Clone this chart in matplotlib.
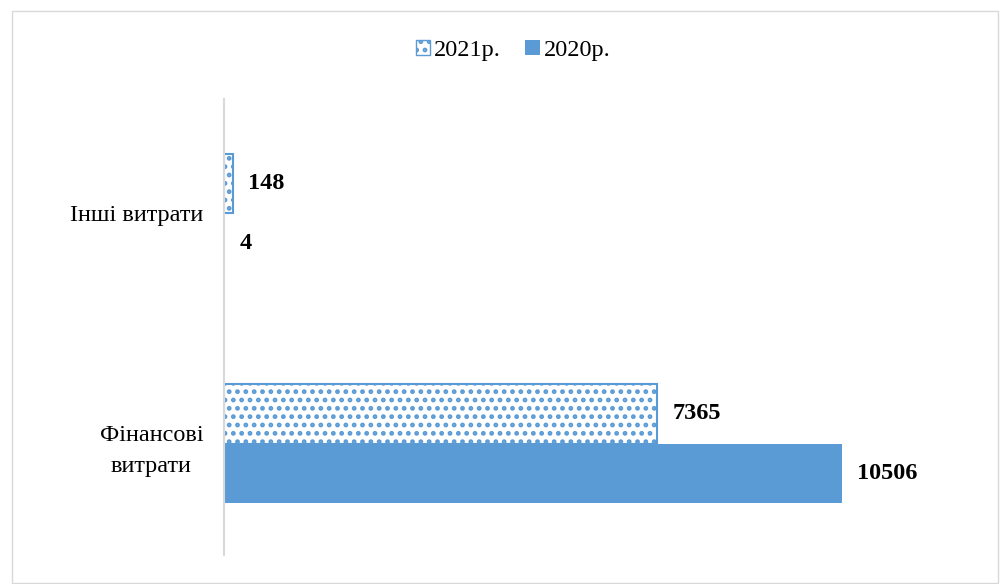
import matplotlib
matplotlib.use("Agg")
import matplotlib.pyplot as plt
from matplotlib.patches import Rectangle, Patch

# дані
categories = ["Фінансові\nвитрати", "Інші витрати"]
series_names = ["2021р.", "2020р."]
values_2021 = [7365, 148]
values_2020 = [10506, 4]

blue = "#5B9BD5"
plt.rcParams['font.family'] = ['Liberation Serif', 'DejaVu Serif']
plt.rcParams['hatch.linewidth'] = 2.2
plt.rcParams['hatch.color'] = blue

fig = plt.figure(figsize=(10, 5.84), dpi=100)
ax = fig.add_axes([0.224, 0.05, 0.736, 0.78])

pos = list(range(len(categories)))
h = 0.26
ax.barh([p + h / 2 for p in pos], values_2021, height=h, color="white",
        edgecolor=blue, hatch="..", linewidth=1.5, label=series_names[0])
ax.barh([p - h / 2 for p in pos], values_2020, height=h, color=blue,
        label=series_names[1])

# підписи значень
for p, v in zip(pos, values_2021):
    ax.annotate(str(v), (v, p + h / 2), xytext=(11, 0), textcoords="offset points",
                va="center", ha="left", fontsize=17.5, fontweight="bold")
for p, v in zip(pos, values_2020):
    ax.annotate(str(v), (v, p - h / 2), xytext=(11, 0), textcoords="offset points",
                va="center", ha="left", fontsize=17.5, fontweight="bold")

ax.set_xlim(0, 12516)
ax.set_ylim(-0.483, 1.496)
ax.set_yticks(pos)
ax.set_yticklabels(categories, fontsize=17.5, ha="right", multialignment="center",
                   linespacing=1.6)
ax.tick_params(axis="y", length=0, pad=15)
ax.set_xticks([])
for s in ["top", "right", "bottom"]:
    ax.spines[s].set_visible(False)
ax.spines["left"].set_color("#D9D9D9")
ax.spines["left"].set_linewidth(1.5)

handles = [Patch(facecolor="white", edgecolor=blue, hatch="..", label=series_names[0]),
           Patch(facecolor=blue, label=series_names[1])]
fig.legend(handles=handles, loc="center", bbox_to_anchor=(0.513, 0.914), ncol=2,
           frameon=False, fontsize=17.5, handlelength=0.6, handleheight=0.6,
           handletextpad=0.15, columnspacing=1.0)

# рамка навколо діаграми
fig.patches.append(Rectangle((0.012, 0.002), 0.986, 0.98, transform=fig.transFigure,
                             fill=False, edgecolor="#D9D9D9", linewidth=1))

fig.savefig("out.png", dpi=100)
